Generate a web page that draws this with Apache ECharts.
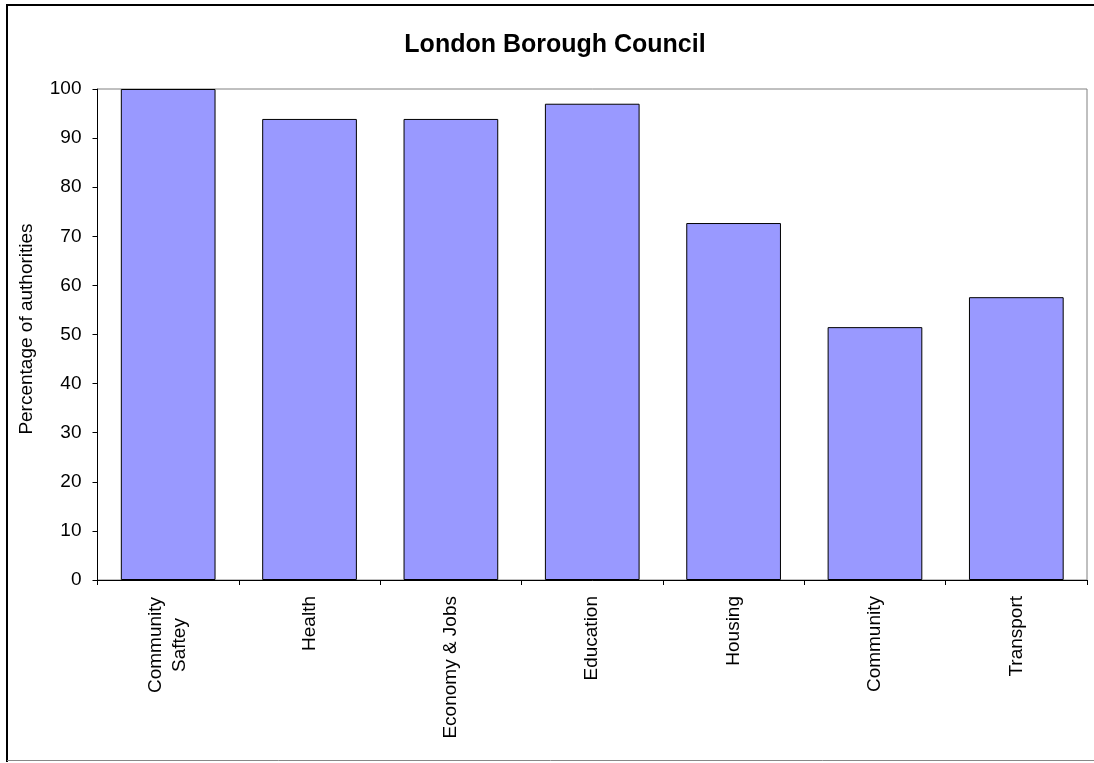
<!DOCTYPE html>
<html>
<head>
<meta charset="utf-8">
<script src="https://cdn.jsdelivr.net/npm/echarts@6/dist/echarts.min.js"></script>
<style>
  html, body { margin: 0; padding: 0; background: #fff; }
  #chart { width: 1094px; height: 763px; }
</style>
</head>
<body>
<div id="chart"></div>
<script>
// Share of London borough authorities naming each priority area
const categories = ['Community\nSaftey', 'Health', 'Economy & Jobs', 'Education', 'Housing', 'Community', 'Transport'];
const percentages = [100, 93.9, 93.9, 97.0, 72.7, 51.5, 57.6];
const titleText = 'London Borough Council';
const yAxisTitle = 'Percentage of authorities';

const FONT = '"Liberation Sans", Arial, sans-serif';
const chart = echarts.init(document.getElementById('chart'), null, { renderer: 'canvas' });

// Two-line category names get their lines centred on each other
function categoryLabel(value) {
  const lines = value.split('\n');
  if (lines.length < 2) return value;
  return lines.map(l => '{c|' + l + '}').join('\n');
}

chart.setOption({
  backgroundColor: '#ffffff',
  animation: false,
  grid: {
    left: 97.5,
    top: 89,
    right: 7,
    bottom: 183,
    show: true,
    borderColor: '#808080',
    borderWidth: 1,
    backgroundColor: 'transparent'
  },
  xAxis: {
    type: 'category',
    data: categories,
    boundaryGap: true,
    axisLine: { lineStyle: { color: '#000', width: 1 } },
    axisTick: { show: true, length: 5, lineStyle: { color: '#000' } },
    axisLabel: {
      rotate: 90,
      interval: 0,
      margin: 16,
      fontFamily: FONT,
      fontSize: 19,
      color: '#000',
      lineHeight: 24,
      formatter: categoryLabel,
      rich: {
        c: {
          width: 98,
          align: 'center',
          fontFamily: FONT,
          fontSize: 19,
          color: '#000',
          lineHeight: 24
        }
      }
    },
    splitLine: { show: false }
  },
  yAxis: {
    type: 'value',
    min: 0,
    max: 100,
    interval: 10,
    axisLine: { show: true, lineStyle: { color: '#000', width: 1 } },
    axisTick: { show: true, length: 5, lineStyle: { color: '#000' } },
    axisLabel: {
      margin: 16,
      fontFamily: FONT,
      fontSize: 19,
      color: '#000'
    },
    splitLine: { show: false }
  },
  series: [{
    type: 'bar',
    data: percentages,
    barWidth: '67%',
    itemStyle: {
      color: '#9999FF',
      borderColor: '#000000',
      borderWidth: 1
    }
  }],
  graphic: [
    {
      type: 'text',
      x: 555, y: 45,
      style: {
        text: titleText,
        font: 'bold 25px ' + FONT,
        fill: '#000',
        align: 'center',
        verticalAlign: 'middle'
      },
      silent: true
    },
    {
      type: 'text',
      x: 27, y: 329,
      rotation: Math.PI / 2,
      style: {
        text: yAxisTitle,
        font: '19px ' + FONT,
        fill: '#000',
        align: 'center',
        verticalAlign: 'middle'
      },
      silent: true
    },
    // outer chart frame
    { type: 'line', shape: { x1: 7, y1: 4, x2: 7, y2: 762 }, style: { stroke: '#000', lineWidth: 2 }, silent: true },
    { type: 'line', shape: { x1: 6, y1: 5, x2: 1094, y2: 5 }, style: { stroke: '#000', lineWidth: 2 }, silent: true },
    { type: 'line', shape: { x1: 7, y1: 760.5, x2: 1094, y2: 760.5 }, style: { stroke: '#888', lineWidth: 1 }, silent: true }
  ]
});
</script>
</body>
</html>
